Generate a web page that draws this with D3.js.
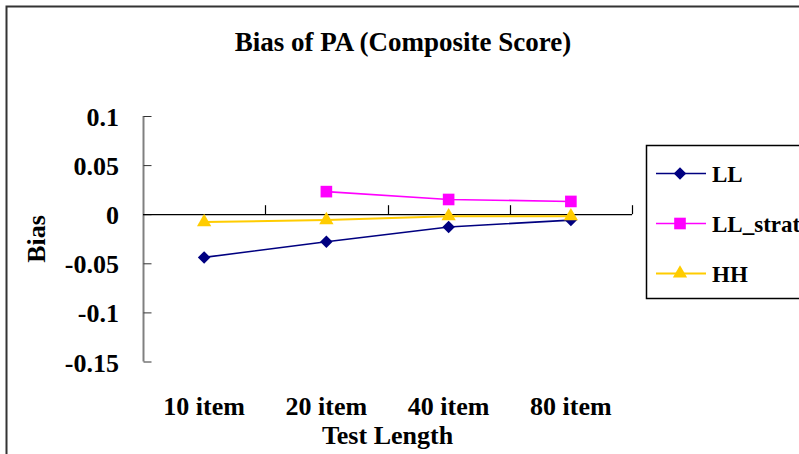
<!DOCTYPE html>
<html>
<head>
    <meta charset="utf-8">
    <script src="https://d3js.org/d3.v7.min.js"></script>
</head>
<body style="margin:0">
    <svg width="799" height="454"></svg>
    <script>
        // data
        var categories = ["10 item", "20 item", "40 item", "80 item"];
        var seriesNames = ["LL", "LL_strat", "HH"];
        var llValues = [-0.044, -0.028, -0.013, -0.006];
        var llStratValues = [null, 0.023, 0.015, 0.013];
        var hhValues = [-0.008, -0.006, -0.002, -0.002];
        var yTicks = [0.1, 0.05, 0, -0.05, -0.1, -0.15];
        var colors = ["#000080", "#FF00FF", "#FFCC00"];
        var symbols = [d3.symbolDiamond2, d3.symbolSquare, d3.symbolTriangle];
        var symbolSizes = [100, 135, 88];
        var lineWidths = [1.6, 1.6, 2];

        var series = [llValues, llStratValues, hhValues];

        var svg = d3.select("svg");

        function label(sel, size) {
            return sel.attr("font-family", "Liberation Serif")
                      .style("font-family", "'Liberation Serif', Tinos, 'Times New Roman', serif")
                      .attr("font-weight", "bold")
                      .attr("font-size", size)
                      .attr("fill", "#000");
        }

        // outer chart frame
        svg.append("rect")
           .attr("x", 6.5).attr("y", 6.5)
           .attr("width", 820).attr("height", 470)
           .attr("fill", "none")
           .attr("stroke", "#333").attr("stroke-width", 2);

        var x = d3.scaleBand().domain(categories).range([143, 632]);
        var y = d3.scaleLinear().domain([-0.15, 0.1]).range([361.5, 116]);

        // y axis (ticks pointing inside)
        var yAxis = d3.axisRight(y).tickValues(yTicks).tickSize(8).tickFormat("");
        var gy = svg.append("g").attr("transform", "translate(143.5,0)").call(yAxis);
        gy.select(".domain").attr("stroke", "#808080").attr("stroke-width", 2).attr("d", "M0," + y(0.1) + "V" + y(-0.15));
        gy.selectAll(".tick line").attr("stroke", "#333");

        svg.selectAll(".ylab")
           .data(yTicks)
           .enter().append("text")
           .attr("class", "ylab")
           .attr("x", 119)
           .attr("y", function(d) { return y(d) + 10; })
           .attr("text-anchor", "end")
           .call(label, 26)
           .text(function(d) { return String(d); });

        // x axis crossing at zero, ticks between categories pointing up
        svg.append("line")
           .attr("x1", 143).attr("x2", 632)
           .attr("y1", y(0) + 0.5).attr("y2", y(0) + 0.5)
           .attr("stroke", "#000").attr("stroke-width", 1.3);
        svg.selectAll(".xtick")
           .data(categories.map(function(c) { return x(c); }).concat([x.range()[1]]).slice(1))
           .enter().append("line")
           .attr("x1", function(d) { return Math.round(d) + 0.5; })
           .attr("x2", function(d) { return Math.round(d) + 0.5; })
           .attr("y1", y(0)).attr("y2", y(0) - 9)
           .attr("stroke", "#000").attr("stroke-width", 1.2);

        svg.selectAll(".xlab")
           .data(categories)
           .enter().append("text")
           .attr("x", function(d) { return x(d) + x.bandwidth() / 2; })
           .attr("y", 415)
           .attr("text-anchor", "middle")
           .call(label, 26)
           .text(function(d) { return d; });

        // lines and markers
        var line = d3.line()
                     .defined(function(d) { return d != null; })
                     .x(function(d, i) { return x(categories[i]) + x.bandwidth() / 2; })
                     .y(function(d) { return y(d); });

        series.forEach(function(vals, s) {
            svg.append("path")
               .attr("d", line(vals))
               .attr("fill", "none")
               .attr("stroke", colors[s])
               .attr("stroke-width", lineWidths[s]);
            svg.selectAll(".m" + s)
               .data(vals.map(function(v, i) { return {v: v, i: i}; }).filter(function(d) { return d.v != null; }))
               .enter().append("path")
               .attr("transform", function(d) {
                   return "translate(" + (x(categories[d.i]) + x.bandwidth() / 2) + "," + y(d.v) + ")";
               })
               .attr("d", d3.symbol().type(symbols[s]).size(symbolSizes[s]))
               .attr("fill", colors[s]);
        });

        // titles
        svg.append("text")
           .attr("x", 403).attr("y", 51)
           .attr("text-anchor", "middle")
           .call(label, 27)
           .text("Bias of PA (Composite Score)");

        svg.append("text")
           .attr("x", 387.5).attr("y", 444)
           .attr("text-anchor", "middle")
           .call(label, 26)
           .text("Test Length");

        svg.append("text")
           .attr("transform", "translate(45,239) rotate(-90)")
           .attr("text-anchor", "middle")
           .call(label, 26)
           .text("Bias");

        // legend
        var legend = svg.append("g");
        legend.append("rect")
              .attr("x", 646.5).attr("y", 145.5)
              .attr("width", 200).attr("height", 153)
              .attr("fill", "#fff")
              .attr("stroke", "#000").attr("stroke-width", 1.5);
        var items = legend.selectAll(".item")
              .data(seriesNames)
              .enter().append("g")
              .attr("transform", function(d, i) { return "translate(0," + (173.5 + i * 50) + ")"; });
        items.append("line")
             .attr("x1", 656).attr("x2", 706)
             .attr("stroke", function(d, i) { return colors[i]; })
             .attr("stroke-width", function(d, i) { return lineWidths[i]; });
        items.append("path")
             .attr("transform", "translate(680,0)")
             .attr("d", function(d, i) { return d3.symbol().type(symbols[i]).size(symbolSizes[i])(); })
             .attr("fill", function(d, i) { return colors[i]; });
        items.append("text")
             .attr("x", 712).attr("y", 8)
             .call(label, 23)
             .text(function(d) { return d; });
    </script>
</body>
</html>
